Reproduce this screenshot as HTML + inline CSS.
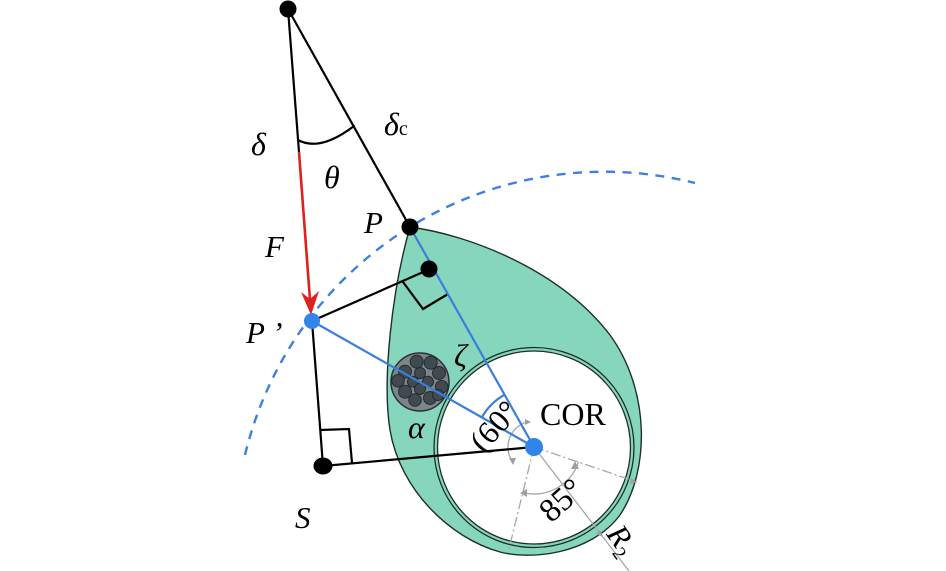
<!DOCTYPE html>
<html><head><meta charset="utf-8"><style>
html,body{margin:0;padding:0;background:#fff;}
svg{display:block;}
text{font-family:"Liberation Serif",serif;fill:#000;}
.it{font-style:italic;}
</style></head><body>
<svg width="946" height="571" viewBox="0 0 946 571" xmlns="http://www.w3.org/2000/svg">
<!-- dashed arc -->
<path d="M245,455 A369.6,369.6 0 0 1 695,183" fill="none" stroke="#3f7fde" stroke-width="2.4" stroke-dasharray="9 7.5"/>

<!-- teardrop -->
<path d="M410,227 C470,235 560,270 610,335 C650,390 650,470 620,515 C590,555 530,560 500,552 C450,538 400,490 390,430 C382,380 392,290 410,227 Z" fill="#86d6bd" stroke="#1e2e28" stroke-width="1.4"/>
<circle cx="534" cy="447.5" r="100" fill="#86d6bd" stroke="#1e2e28" stroke-width="1.3"/>
<circle cx="534" cy="447.5" r="96.5" fill="#fff" stroke="#1e2e28" stroke-width="1.3"/>

<!-- gray construction lines -->
<g stroke="#a3a8ad" stroke-width="1.3" fill="none">
<line x1="534" y1="447" x2="508" y2="553" stroke-dasharray="10 3 2 3"/>
<line x1="534" y1="447" x2="637" y2="482" stroke-dasharray="10 3 2 3"/>
<line x1="534" y1="447" x2="629" y2="571"/>
<path d="M578.5,462.1 A47,47 0 0 1 523.5,492.8"/>
<path d="M526.8,422 A26,26 0 0 0 512.4,461.5"/>
</g>
<g fill="#9aa0a5">
<polygon points="575,461 571,469 579,469"/>
<polygon points="520,493 527,489 527,497"/>
<polygon points="531,422 525,419 525,425"/>
<polygon points="513,465 509,458 516,458"/>
<polygon points="603,537 596,534 600,530"/>
<polygon points="637,482 631,478 630,484"/>
</g>

<!-- black lines -->
<g stroke="#000" stroke-width="2.2" fill="none" stroke-linecap="round">
<line x1="288" y1="9" x2="410" y2="227"/>
<line x1="288" y1="9" x2="299" y2="152"/>
<line x1="312" y1="321" x2="323" y2="466"/>
<line x1="312" y1="321" x2="430" y2="269"/>
<line x1="323" y1="466" x2="534" y2="447"/>
<polyline points="320,430 349,429 352,463" stroke-linecap="butt"/>
<polyline points="403,282 423,309 448,294" stroke-linecap="butt"/>
<path d="M298,140 Q320,152 354,126"/>
</g>

<!-- red arrow -->
<line x1="299" y1="152" x2="310" y2="300" stroke="#e0201e" stroke-width="2.6"/>
<polygon points="311,315 301,292 310,299 319,291" fill="#e0201e"/>

<!-- cable bundle -->
<circle cx="420" cy="382" r="29" fill="#7d858a" stroke="#2a3035" stroke-width="1.5"/>
<g fill="#414a4f" stroke="#22282c" stroke-width="0.9">
<circle cx="416.7" cy="361.7" r="6.5"/>
<circle cx="430.7" cy="362.7" r="6.5"/>
<circle cx="405" cy="371.7" r="6.5"/>
<circle cx="420" cy="373" r="5.5"/>
<circle cx="439" cy="373" r="6.5"/>
<circle cx="398" cy="380.7" r="6.3"/>
<circle cx="413" cy="381.7" r="5.5"/>
<circle cx="428" cy="381.7" r="5.5"/>
<circle cx="441.7" cy="386.7" r="6.3"/>
<circle cx="405" cy="391.7" r="6.5"/>
<circle cx="420" cy="389" r="5.5"/>
<circle cx="430" cy="398" r="6.5"/>
<circle cx="415" cy="400" r="6.3"/>
<circle cx="438" cy="395" r="5.5"/>
</g>

<!-- blue lines -->
<g stroke="#3a7edc" stroke-width="2.2" fill="none">
<line x1="410" y1="227" x2="534" y2="447"/>
<line x1="312" y1="321" x2="534" y2="447"/>
<path d="M481.8,417.4 A60,60 0 0 1 504.6,394.7"/>
</g>

<!-- dots -->
<circle cx="288" cy="9" r="8.5" fill="#000"/>
<circle cx="410" cy="227" r="8.5" fill="#000"/>
<circle cx="429" cy="269" r="8.5" fill="#000"/>
<ellipse cx="323" cy="466" rx="9.5" ry="8.5" fill="#000"/>
<circle cx="312" cy="321" r="8" fill="#2f85ea"/>
<circle cx="534" cy="447" r="9" fill="#2f85ea"/>

<!-- labels -->
<text x="251" y="155" font-size="32" class="it">δ</text>
<text x="384" y="135" font-size="32" class="it">δ<tspan font-size="20" font-style="normal">c</tspan></text>
<text x="324" y="188" font-size="32" class="it">θ</text>
<text x="364" y="233" font-size="31" class="it">P</text>
<text x="265" y="257" font-size="31" class="it">F</text>
<text x="246" y="343" font-size="31" class="it">P ’</text>
<text x="295" y="528" font-size="31" class="it">S</text>
<text x="454" y="366" font-size="32" class="it">ζ</text>
<text x="408" y="438" font-size="32" class="it">α</text>
<text x="540" y="425" font-size="32">COR</text>
<text transform="translate(494,426) rotate(-48)" x="0" y="11" font-size="32" text-anchor="middle">(60°</text>
<text transform="translate(561,500) rotate(-42)" x="0" y="11" font-size="33" text-anchor="middle">85°</text>
<text transform="translate(622,540) rotate(55)" x="0" y="10" font-size="31" text-anchor="middle" class="it">R<tspan font-size="19" font-style="normal" dy="6">2</tspan></text>
</svg>
</body></html>
